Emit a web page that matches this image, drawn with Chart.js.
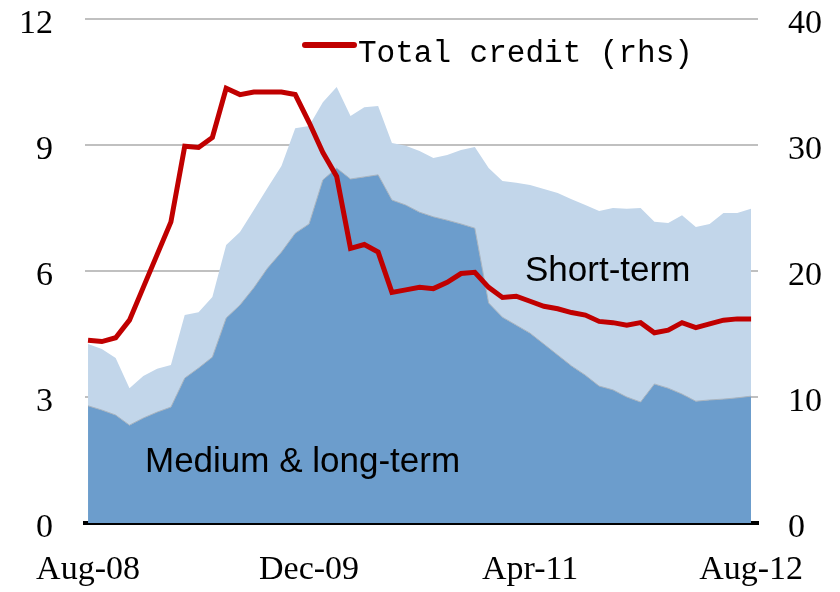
<!DOCTYPE html>
<html>
<head>
<meta charset="utf-8">
<script src="https://cdn.jsdelivr.net/npm/chart.js@4.4.1/dist/chart.umd.min.js"></script>
<style>
  html, body { margin: 0; padding: 0; background: #ffffff; }
  canvas { display: block; }
</style>
</head>
<body>
<canvas id="creditChart" width="840" height="592"></canvas>
<script>
const months = [
  "Aug-08", "Sep-08", "Oct-08", "Nov-08", "Dec-08", "Jan-09", "Feb-09", "Mar-09",
  "Apr-09", "May-09", "Jun-09", "Jul-09", "Aug-09", "Sep-09", "Oct-09", "Nov-09",
  "Dec-09", "Jan-10", "Feb-10", "Mar-10", "Apr-10", "May-10", "Jun-10", "Jul-10",
  "Aug-10", "Sep-10", "Oct-10", "Nov-10", "Dec-10", "Jan-11", "Feb-11", "Mar-11",
  "Apr-11", "May-11", "Jun-11", "Jul-11", "Aug-11", "Sep-11", "Oct-11", "Nov-11",
  "Dec-11", "Jan-12", "Feb-12", "Mar-12", "Apr-12", "May-12", "Jun-12", "Jul-12",
  "Aug-12"
];

// left axis, stacked
const mediumLong = [
  2.79, 2.69, 2.57, 2.33, 2.50, 2.64, 2.76, 3.45, 3.69, 3.95,
  4.88, 5.19, 5.60, 6.07, 6.45, 6.90, 7.12, 8.17, 8.45, 8.19,
  8.24, 8.29, 7.69, 7.57, 7.40, 7.29, 7.21, 7.12, 7.02, 5.24,
  4.90, 4.71, 4.52, 4.26, 4.00, 3.74, 3.52, 3.26, 3.17, 3.00,
  2.88, 3.31, 3.21, 3.07, 2.90, 2.93, 2.95, 2.98, 3.02
];
const shortTerm = [
  1.47, 1.45, 1.36, 0.88, 1.00, 1.03, 1.00, 1.50, 1.33, 1.43,
  1.74, 1.74, 1.85, 1.91, 2.05, 2.50, 2.33, 1.85, 1.93, 1.50,
  1.66, 1.64, 1.36, 1.41, 1.46, 1.40, 1.55, 1.76, 1.93, 3.21,
  3.24, 3.39, 3.53, 3.69, 3.86, 3.97, 4.05, 4.17, 4.33, 4.48,
  4.62, 3.86, 3.93, 4.26, 4.15, 4.19, 4.43, 4.40, 4.46
];
// right axis
const totalCredit = [
  14.5, 14.4, 14.7, 16.1, 18.7, 21.3, 23.9, 29.9, 29.8, 30.6,
  34.5, 34.0, 34.2, 34.2, 34.2, 34.0, 31.8, 29.4, 27.5, 21.8,
  22.1, 21.5, 18.3, 18.5, 18.7, 18.6, 19.1, 19.8, 19.9, 18.7,
  17.9, 18.0, 17.6, 17.2, 17.0, 16.7, 16.5, 16.0, 15.9, 15.7,
  15.9, 15.1, 15.3, 15.9, 15.5, 15.8, 16.1, 16.2, 16.2
];

const leftTicks = [0, 3, 6, 9, 12];
const rightTicks = [0, 10, 20, 30, 40];
const xLabelEvery = 16;

const toPoints = arr => arr.map((v, i) => ({ x: i, y: v }));

const tickFont = { family: "Liberation Serif", size: 34 };

// keep the plot box fixed: no extra room for label overhang
const noPad = s => {
  s.paddingTop = 0;
  s.paddingBottom = 0;
  s.paddingLeft = 0;
  s.paddingRight = 0;
};

// annotations and legend drawn on top
const labelsPlugin = {
  id: "labelsPlugin",
  afterDatasetsDraw(chart) {
    const ctx = chart.ctx;
    ctx.save();
    ctx.fillStyle = "#000000";
    ctx.textAlign = "left";
    ctx.textBaseline = "alphabetic";
    ctx.font = "35px 'Liberation Sans'";
    ctx.fillText("Short-term", 525, 281);
    ctx.fillText("Medium & long-term", 145, 472);

    ctx.strokeStyle = "#c00000";
    ctx.lineWidth = 6;
    ctx.lineCap = "round";
    ctx.beginPath();
    ctx.moveTo(305, 45);
    ctx.lineTo(354, 45);
    ctx.stroke();
    ctx.font = "31px 'Liberation Mono'";
    ctx.fillText("Total credit (rhs)", 358, 62);
    ctx.restore();
  }
};

const ctx = document.getElementById("creditChart").getContext("2d");

new Chart(ctx, {
  type: "line",
  data: {
    datasets: [
      {
        label: "Medium & long-term",
        data: toPoints(mediumLong),
        yAxisID: "y",
        backgroundColor: "#6c9dcc",
        borderColor: "#a9b4bf",
        borderWidth: 1,
        pointRadius: 0,
        fill: "origin",
        order: 1
      },
      {
        label: "Short-term",
        data: toPoints(shortTerm),
        yAxisID: "y",
        backgroundColor: "#c2d6ea",
        borderColor: "#c2d6ea",
        borderWidth: 0,
        pointRadius: 0,
        fill: "-1",
        order: 1
      },
      {
        label: "Total credit (rhs)",
        data: toPoints(totalCredit),
        yAxisID: "y1",
        borderColor: "#c00000",
        borderWidth: 5,
        pointRadius: 0,
        fill: false,
        order: 0
      }
    ]
  },
  options: {
    responsive: false,
    animation: false,
    layout: { padding: { top: 19, left: 0, right: 0, bottom: 0 } },
    plugins: {
      legend: { display: false },
      tooltip: { enabled: false }
    },
    scales: {
      x: {
        type: "linear",
        min: -0.22,
        max: 48.5,
        grid: { display: false, drawTicks: false },
        border: { display: true, color: "#000000", width: 4 },
        afterFit: s => { s.height = 69; noPad(s); },
        ticks: {
          stepSize: xLabelEvery,
          includeBounds: false,
          autoSkip: false,
          maxRotation: 0,
          padding: 27,
          color: "#000000",
          font: tickFont,
          callback: v => (v % xLabelEvery === 0 ? months[v] : "")
        }
      },
      y: {
        position: "left",
        stacked: true,
        min: leftTicks[0],
        max: leftTicks[leftTicks.length - 1],
        afterFit: s => { s.width = 85; noPad(s); },
        grid: { color: "#c0c0c0", lineWidth: 2, drawTicks: false },
        border: { display: false },
        ticks: {
          stepSize: 3,
          padding: 32,
          labelOffset: 5,
          color: "#000000",
          font: tickFont
        }
      },
      y1: {
        position: "right",
        min: rightTicks[0],
        max: rightTicks[rightTicks.length - 1],
        afterFit: s => { s.width = 82; noPad(s); },
        grid: { display: false, drawTicks: false },
        border: { display: false },
        ticks: {
          stepSize: 10,
          padding: 30,
          labelOffset: 5,
          color: "#000000",
          font: tickFont
        }
      }
    }
  },
  plugins: [labelsPlugin]
});
</script>
</body>
</html>
